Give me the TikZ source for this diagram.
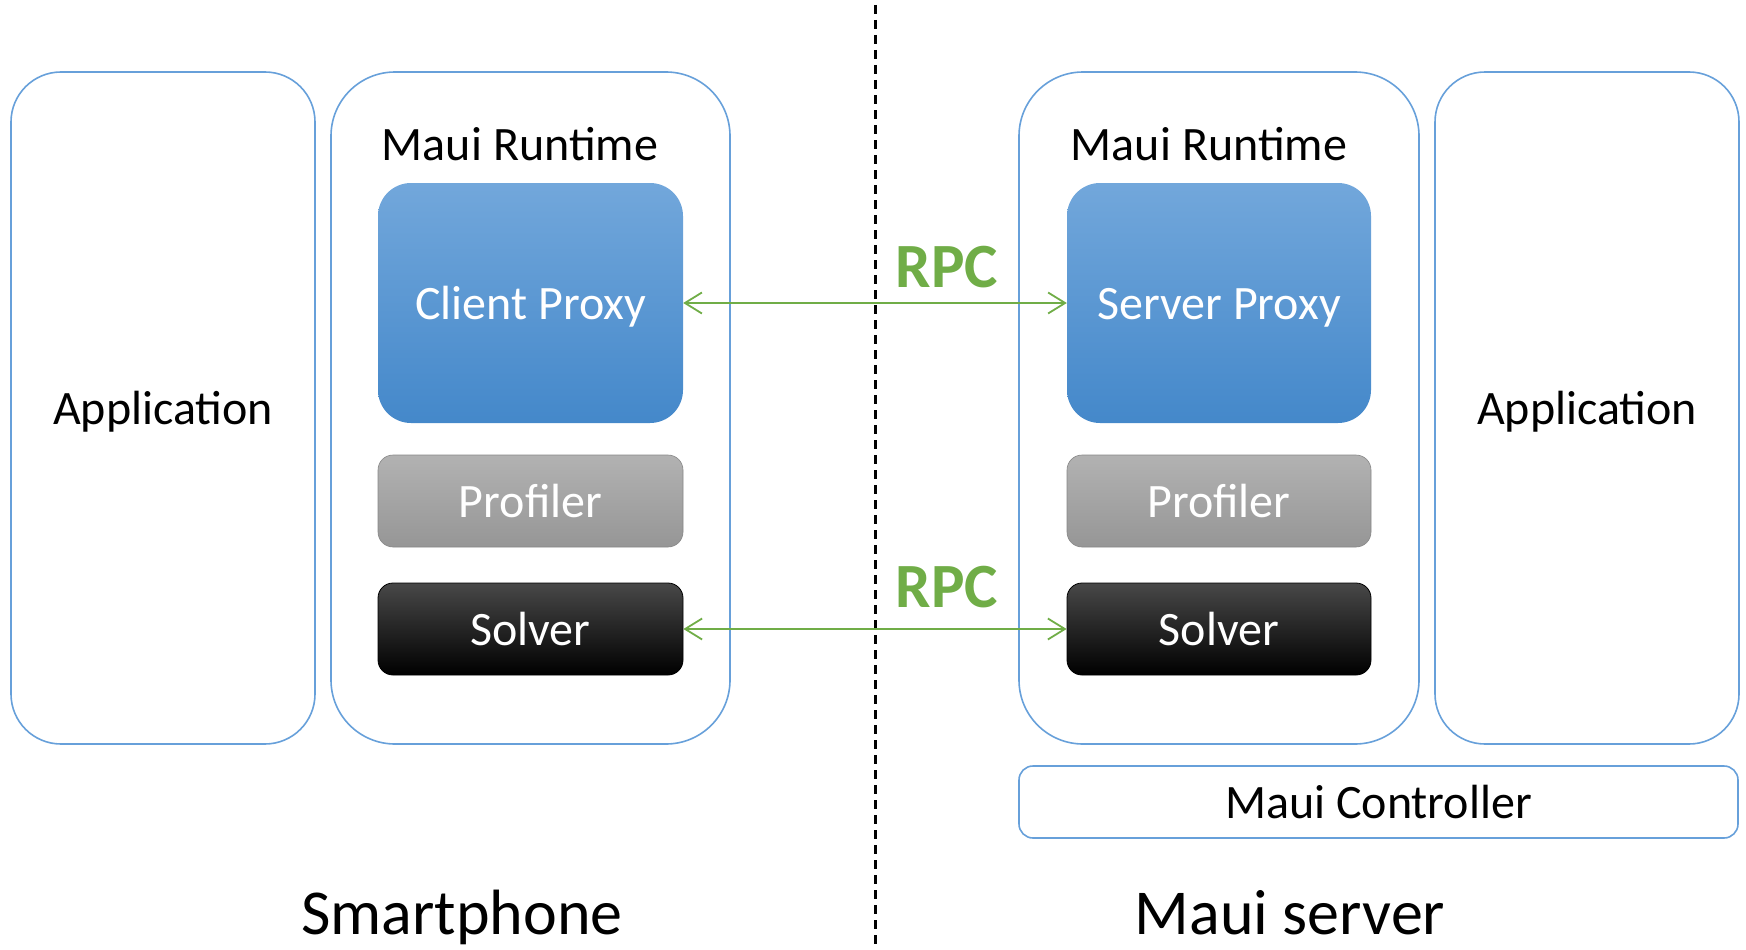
\documentclass[tikz,border=0pt]{standalone}
\usepackage{fontspec}
\setmainfont{Carlito}
\usetikzlibrary{arrows.meta}

\definecolor{boxblue}{RGB}{103,160,218}
\definecolor{proxytop}{RGB}{114,167,219}
\definecolor{proxybot}{RGB}{68,136,202}
\definecolor{proftop}{RGB}{178,178,178}
\definecolor{profbot}{RGB}{150,150,150}
\definecolor{solvtop}{RGB}{72,72,72}
\definecolor{rpcgreen}{RGB}{112,173,71}

\newcommand\fsz[1]{\fontsize{#1}{#1}\selectfont}

\tikzset{
  frame/.style={draw=boxblue, line width=1.6pt, inner sep=0pt,
    font=\fsz{48}, text height=33pt, text depth=0pt},
  appbox/.style={frame, rounded corners=50pt,
    minimum width=304pt, minimum height=672pt},
  runtimebox/.style={frame, rounded corners=64pt,
    minimum height=672pt},
  ctrlbox/.style={frame, rounded corners=14pt,
    minimum width=719pt, minimum height=72pt},
  inner/.style={inner sep=0pt, text=white, font=\fsz{48},
    text height=33pt, text depth=0pt, minimum width=305pt},
  proxybox/.style={inner, rounded corners=33pt, minimum height=240pt,
    top color=proxytop, bottom color=proxybot},
  profbox/.style={inner, rounded corners=15pt, minimum height=92pt,
    top color=proftop, bottom color=profbot, draw=profbot!90!black, line width=0.6pt},
  solvbox/.style={inner, rounded corners=15pt, minimum height=92pt,
    top color=solvtop, middle color=black, bottom color=black,
    draw=black, line width=0.8pt},
  title/.style={anchor=base, inner sep=0pt, font=\fsz{48}},
  side/.style={anchor=base, inner sep=0pt, font=\fsz{64}},
  rpclabel/.style={anchor=base, inner sep=0pt, text=rpcgreen,
    font=\fsz{63}\bfseries},
  rpc/.style={draw=rpcgreen, line width=1.8pt,
    {Straight Barb[length=17pt,width=21pt,line width=1.8pt]}-{Straight Barb[length=17pt,width=21pt,line width=1.8pt]}},
  divider/.style={draw=black, line width=3pt, dash pattern=on 9pt off 6pt},
}

\begin{document}
\begin{tikzpicture}[x=1pt,y=-1pt]
  \useasboundingbox (0,0) rectangle (1746,950);

  % smartphone side
  \node[appbox] (lapp) at (163,408) {Application};
  \node[runtimebox, minimum width=399pt] (lrt) at (530.5,408) {};
  \node[title] (lrtt) at (520,160) {Maui Runtime};
  \node[proxybox] (cproxy) at (530.5,303) {Client Proxy};
  \node[profbox] (lprof) at (530.5,501) {Profiler};
  \node[solvbox] (lsolv) at (530.5,629) {Solver};

  % server side
  \node[runtimebox, minimum width=400pt] (rrt) at (1219,408) {};
  \node[title] (rrtt) at (1209,160) {Maui Runtime};
  \node[proxybox, minimum width=304pt] (sproxy) at (1219,303) {Server Proxy};
  \node[profbox, minimum width=304pt] (rprof) at (1219,501) {Profiler};
  \node[solvbox, minimum width=304pt] (rsolv) at (1219,629) {Solver};
  \node[appbox] (rapp) at (1587,408) {Application};
  \node[ctrlbox] (ctrl) at (1378.5,802) {Maui Controller};

  % divider between the two machines
  \coordinate (dtop) at (875,5);
  \coordinate (dbot) at (875,950);
  \draw[divider] (dtop) -- (dbot);

  % remote procedure calls
  \draw[rpc] (cproxy.east) -- (sproxy.west);
  \draw[rpc] (lsolv.east) -- (rsolv.west);
  \node[rpclabel] (rpc1) at (947,287) {RPC};
  \node[rpclabel] (rpc2) at (947,607) {RPC};

  % machine names
  \node[side] (phone) at (462,934) {Smartphone};
  \node[side] (server) at (1290,934) {Maui server};
\end{tikzpicture}
\end{document}
